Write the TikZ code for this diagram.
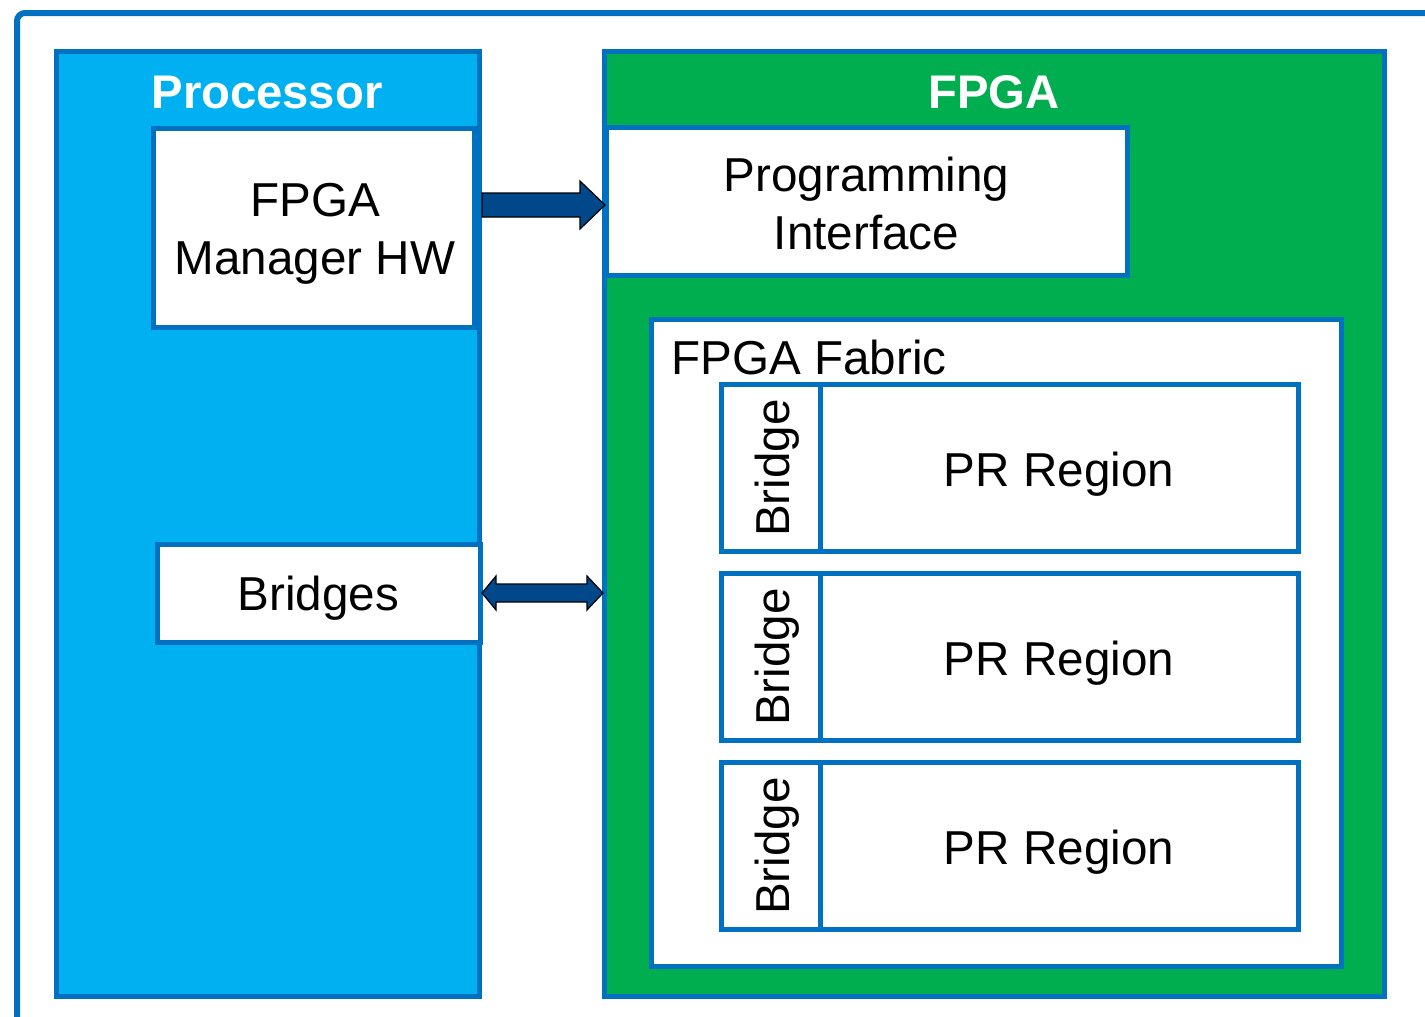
\documentclass[tikz,border=0pt]{standalone}
\usepackage{fontspec}
\setmainfont{Liberation Sans}
\definecolor{cyanfill}{HTML}{00B0F0}
\definecolor{greenfill}{HTML}{00AE4F}
\definecolor{edgeblue}{HTML}{0070C0}
\definecolor{arrowblue}{HTML}{00488A}
\tikzset{
  panel/.style={draw=edgeblue, line width=2.5pt},
  wbox/.style={draw=edgeblue, line width=2.5pt, fill=white},
  txt/.style={font=\fontsize{23.8}{29}\selectfont, align=center, inner sep=0pt},
  ttl/.style={font=\fontsize{23.6}{29}\selectfont\bfseries, text=white, inner sep=0pt},
  fatarrow/.style={draw=black, line width=0.6pt, fill=arrowblue, line join=miter},
}
\begin{document}
\begin{tikzpicture}[x=0.5pt,y=-0.5pt]
\useasboundingbox (0,0) rectangle (1425,1017);
\clip (0,0) rectangle (1425,1017);
% outer frame (only top and left visible)
\draw[draw=edgeblue, line width=3pt, rounded corners=4pt] (17,1040) -- (17,13) -- (1450,13);
% processor panel
\path[panel, fill=cyanfill] (56,51) rectangle (479,996);
\node[ttl] (proc) at (267,92) {Processor};
% FPGA panel
\path[panel, fill=greenfill] (604,51) rectangle (1384,996);
\node[ttl] (fpga) at (994,92) {FPGA};
% FPGA manager
\path[wbox] (153,128) rectangle (474,327);
\node[txt] (mgr) at (315,234) {FPGA\\Manager HW};
% bridges
\path[wbox] (157,544) rectangle (480,642);
\node[txt] (brs) at (318.5,598) {Bridges};
% programming interface
\path[wbox] (606,127) rectangle (1127,275);
\node[txt] (prog) at (866.5,203) {Programming\\Interface};
% fabric
\path[wbox] (651,319) rectangle (1341,966);
\node[txt, anchor=west] (fab) at (671,357) {FPGA Fabric};
% PR rows
\foreach \i/\yt in {1/384, 2/573, 3/762} {
  \path[wbox] (721,\yt) rectangle (1298,\yt+167);
  \draw[draw=edgeblue, line width=2.5pt] (820,\yt) -- (820,\yt+167);
  \node[txt, rotate=90] (br\i) at (777,\yt+84) {Bridge};
  \node[txt] (pr\i) at (1059,\yt+90) {PR Region};
}
% single arrow
\coordinate (a1s) at (482,205);
\path[fatarrow] (a1s) ++(0,-12) -- (580,193) -- (580,181) -- (605,205) -- (580,229) -- (580,217) -- (482,217) -- cycle;
% double arrow
\path[fatarrow] (482,593) -- (496,576) -- (496,584) -- (587,584) -- (587,576) -- (603,593) -- (587,610) -- (587,602) -- (496,602) -- (496,610) -- cycle;
\end{tikzpicture}
\end{document}
